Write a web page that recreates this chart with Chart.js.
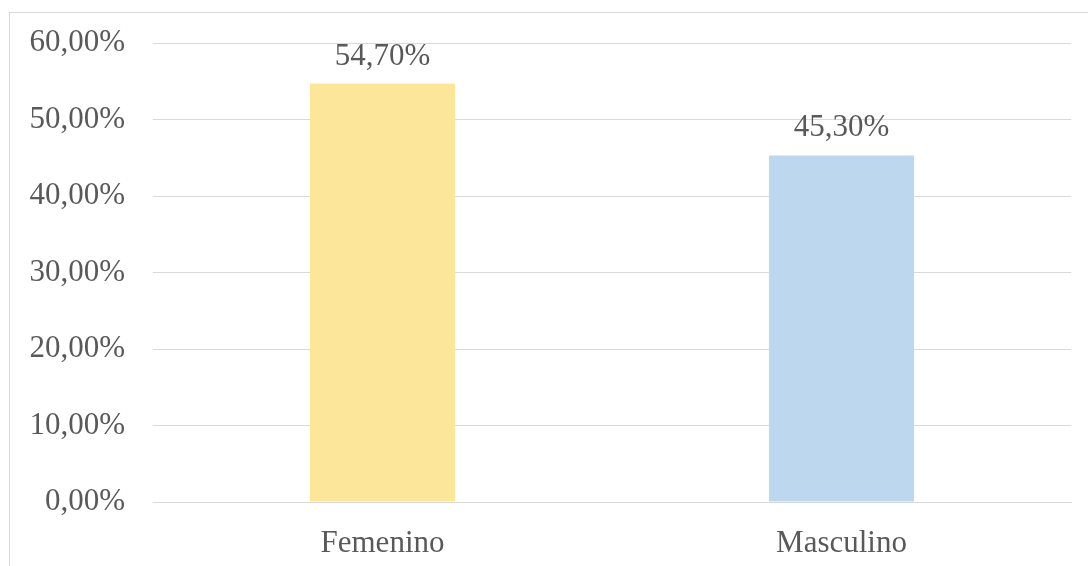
<!DOCTYPE html>
<html>
<head>
<meta charset="utf-8">
<script src="https://cdn.jsdelivr.net/npm/chart.js@4.4.0/dist/chart.umd.min.js"></script>
<style>
  html, body { margin: 0; padding: 0; background: #fff; }
  #wrap { position: relative; width: 1088px; height: 566px; }
</style>
</head>
<body>
<div id="wrap"><canvas id="myChart" width="1088" height="566"></canvas></div>
<script>
// data
var categories = ['Femenino', 'Masculino'];
var values = [54.70, 45.30];
var barColors = ['#FCE699', '#BDD7EE'];
var yTicks = [0, 10, 20, 30, 40, 50, 60];

var FONT = "'Liberation Serif', 'Times New Roman', serif";
var TEXT = '#595959';

function pct(v) {
    return v.toFixed(2).replace('.', ',') + '%';
}

// outer frame + value labels above bars
var extras = {
    id: 'extras',
    beforeDraw: function (chart) {
        var c = chart.ctx;
        c.save();
        c.strokeStyle = '#D9D9D9';
        c.lineWidth = 1;
        c.strokeRect(9.5, 12.5, 1100, 600);
        c.restore();
    },
    afterDatasetsDraw: function (chart) {
        var c = chart.ctx;
        var meta = chart.getDatasetMeta(0);
        c.save();
        c.font = '31px ' + FONT;
        c.fillStyle = TEXT;
        c.textAlign = 'center';
        c.textBaseline = 'alphabetic';
        meta.data.forEach(function (bar, i) {
            c.fillText(pct(values[i]), bar.x, bar.y - 19);
        });
        c.restore();
    }
};

var ctx = document.getElementById('myChart').getContext('2d');
var chart = new Chart(ctx, {
    type: 'bar',
    data: {
        labels: categories,
        datasets: [{
            data: values,
            backgroundColor: barColors,
            borderWidth: 0,
            categoryPercentage: 1,
            barPercentage: 0.316
        }]
    },
    options: {
        responsive: false,
        animation: false,
        layout: { padding: { top: 43, right: 17, left: 0, bottom: 0 } },
        plugins: {
            legend: { display: false },
            tooltip: { enabled: false }
        },
        scales: {
            x: {
                grid: { display: false, drawTicks: false, tickLength: 0 },
                border: { color: '#D9D9D9', width: 1 },
                ticks: {
                    color: TEXT,
                    font: { family: FONT, size: 31 },
                    padding: 23
                },
                afterFit: function (s) {
                    s.height = 64;
                    s.paddingLeft = 0;
                    s.paddingRight = 0;
                }
            },
            y: {
                min: 0,
                max: 60,
                afterBuildTicks: function (s) {
                    s.ticks = yTicks.map(function (v) { return { value: v }; });
                },
                grid: { color: '#D9D9D9', lineWidth: 1, drawTicks: false, tickLength: 0 },
                border: { display: false },
                ticks: {
                    color: TEXT,
                    font: { family: FONT, size: 31 },
                    padding: 28,
                    callback: function (v) { return pct(v); }
                },
                afterFit: function (s) {
                    s.width = 153;
                    s.paddingTop = 0;
                    s.paddingBottom = 0;
                }
            }
        }
    },
    plugins: [extras]
});
</script>
</body>
</html>
